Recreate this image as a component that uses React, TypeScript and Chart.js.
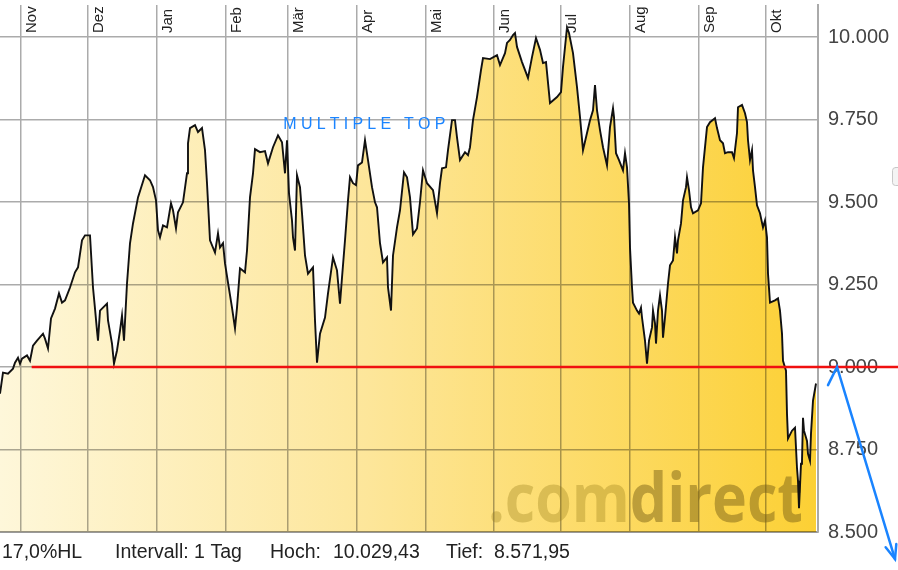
import React, { useEffect, useRef } from "react";
import { Chart, registerables } from "chart.js";

Chart.register(...registerables);

// trading-day index (x) and closing level (y) of the index
const days = [
  0, 0.9, 2.4, 3.9, 4.5, 5.4, 6, 6.6, 8.1, 9, 9.9, 11.1, 12.9, 13.5, 14.4, 15.3, 16.5, 17.7, 18.6, 19.5,
  21, 22.5, 23.4, 24.6, 25.5, 27, 27.9, 28.5, 29.1, 29.4, 30, 32.1, 32.4, 33.6, 34.2, 35.1, 36, 36.6, 37.2, 38.1,
  39, 39.9, 41.4, 43.5, 45, 45.9, 46.8, 47.4, 48, 48.9, 50.1, 51.3, 51.9, 52.8, 53.4, 54.9, 56.1, 56.4, 57, 58.5,
  59.4, 60.6, 61.5, 62.1, 63, 64.5, 65.4, 66, 66.9, 67.5, 68.4, 69.6, 70.5, 71.1, 72, 73.5, 74.1, 75, 75.9, 76.5,
  78, 79.5, 80.4, 81.9, 83.4, 84.6, 85.5, 86.1, 86.7, 87.6, 87.9, 88.5, 89.1, 90, 90.6, 91.5, 92.4, 93.9, 94.2, 94.5,
  95.1, 96, 97.5, 98.4, 99.9, 101.1, 102, 102.6, 103.5, 104.4, 105, 105.9, 106.8, 107.4, 108.6, 109.5, 110.4, 111.6, 112.5, 113.1,
  114, 114.9, 116.1, 116.4, 117.3, 117.9, 119.1, 120, 121.2, 122.1, 123, 123.9, 125.1, 126, 126.9, 128.1, 129.9, 131.1, 132, 132.6,
  133.8, 134.4, 135.6, 136.5, 137.1, 138, 139.5, 140.4, 141, 141.9, 143.1, 144.3, 144.9, 147, 149.1, 150, 151.5, 152.1, 153, 153.9,
  154.5, 155.1, 156.6, 158.4, 159.6, 160.8, 162, 162.9, 163.8, 165, 167.1, 168.3, 168.9, 170.1, 170.7, 171.9, 173.1, 174, 174.9, 176.1,
  177, 177.9, 178.5, 179.1, 180, 180.9, 182.1, 183, 183.9, 184.2, 184.8, 185.7, 186.9, 187.5, 188.1, 188.7, 189, 189.6, 189.9, 191.1,
  191.7, 192.3, 192.6, 193.5, 194.1, 194.7, 195.6, 195.9, 196.5, 196.8, 197.4, 198, 198.6, 198.9, 199.5, 200.4, 201, 201.9, 202.5, 203.1,
  203.4, 204.3, 204.9, 205.8, 206.1, 206.7, 207.3, 207.9, 209.4, 210.3, 210.9, 212.1, 213, 214.5, 215.1, 216, 216.9, 217.5, 218.4, 219.6,
  220.2, 221.1, 221.4, 222.6, 223.5, 224.1, 224.4, 225, 225.6, 225.9, 226.5, 227.1, 228, 228.9, 229.5, 230.1, 230.4, 231, 232.5, 233.4,
  234, 234.6, 234.9, 235.8, 236.1, 236.4, 237.6, 238.5, 239.1, 239.4, 239.7, 240.3, 240.6, 240.9, 241.2, 242.1, 242.4, 243, 243.3, 243.9,
  244.8,
];

const closes = [
  8919, 8983, 8980, 8995, 9013, 9028, 9010, 9025, 9035, 9019, 9065, 9080, 9101, 9086, 9056, 9147, 9177, 9223, 9195, 9202,
  9241, 9287, 9302, 9384, 9399, 9399, 9241, 9177, 9110, 9080, 9171, 9192, 9141, 9071, 9010, 9050, 9110, 9156, 9080, 9253,
  9375, 9435, 9514, 9581, 9566, 9545, 9505, 9414, 9393, 9429, 9423, 9496, 9475, 9420, 9469, 9499, 9587, 9678, 9724, 9733,
  9712, 9724, 9657, 9557, 9384, 9347, 9405, 9362, 9375, 9314, 9256, 9180, 9117, 9180, 9299, 9287, 9353, 9514, 9587, 9660,
  9651, 9654, 9617, 9666, 9702, 9681, 9587, 9687, 9526, 9444, 9393, 9353, 9581, 9545, 9466, 9338, 9283, 9302, 9223, 9141,
  9013, 9101, 9150, 9223, 9332, 9293, 9192, 9271, 9384, 9505, 9575, 9557, 9551, 9611, 9620, 9687, 9627, 9545, 9499, 9484,
  9375, 9317, 9332, 9241, 9171, 9338, 9423, 9475, 9590, 9575, 9514, 9402, 9420, 9500, 9596, 9557, 9536, 9466, 9557, 9602,
  9605, 9657, 9748, 9748, 9696, 9627, 9651, 9642, 9666, 9748, 9818, 9900, 9936, 9933, 9945, 9915, 9951, 9982, 9991, 10006,
  10012, 9970, 9924, 9876, 9939, 9997, 9961, 9921, 9924, 9800, 9818, 9833, 9909, 10029, 10012, 9951, 9848, 9757, 9657, 9709,
  9748, 9778, 9854, 9778, 9718, 9666, 9611, 9727, 9784, 9757, 9648, 9627, 9596, 9648, 9605, 9496, 9362, 9241, 9195, 9171,
  9162, 9180, 9150, 9080, 9010, 9080, 9120, 9171, 9132, 9071, 9171, 9217, 9171, 9089, 9150, 9253, 9308, 9323, 9393, 9344,
  9384, 9435, 9505, 9545, 9575, 9536, 9484, 9466, 9475, 9496, 9605, 9727, 9742, 9754, 9724, 9687, 9678, 9648, 9651, 9651,
  9633, 9709, 9787, 9794, 9769, 9742, 9687, 9627, 9657, 9596, 9545, 9490, 9466, 9423, 9444, 9393, 9283, 9195, 9202, 9208,
  9171, 9101, 9019, 8989, 8858, 8783, 8807, 8816, 8694, 8655, 8572, 8707, 8716, 8846, 8807, 8776, 8737, 8716, 8798, 8898,
  8950,
];

const monthLabels = ["Nov", "Dez", "Jan", "Feb", "Mär", "Apr", "Mai", "Jun", "Jul", "Aug", "Sep", "Okt"];
const monthDays = [6.3, 26.4, 47.1, 67.8, 86.4, 107.1, 127.8, 148.2, 168.3, 189, 209.7, 229.8];
const yTicks = [8500, 8750, 9000, 9250, 9500, 9750, 10000];

const supportLevel = 9000;
const supportStartDay = 9.5;
const patternLabel = "MULTIPLE TOP";
const patternDay = 85;
const patternLevel = 9721;
const arrowStartLevel = 8945;
const arrowTargetLevel = 8418;
const infoTexts = ["17,0%HL", "Intervall: 1 Tag", "Hoch:", "10.029,43", "Tief:", "8.571,95"];

const X_MAX = 245.4;
const Y_MIN = 8500;
const Y_MAX = 10097;

const fmt = (v: number) => {
  const s = Math.round(v).toString();
  return s.slice(0, -3) + "." + s.slice(-3);
};

const FONT = '"Liberation Sans", Arial, Helvetica, sans-serif';
const BLUE = "#1a84ff";

const overlayPlugin = {
  id: "overlay",
  beforeDraw(chart: any) {
    const { ctx, width, height } = chart;
    ctx.save();
    ctx.fillStyle = "#ffffff";
    ctx.fillRect(0, 0, width, height);
    ctx.restore();
  },
  beforeDatasetsDraw(chart: any) {
    chart.ctx.globalCompositeOperation = "multiply";
  },
  afterDatasetDraw(chart: any, args: any) {
    if (args.index !== 1) return;
    const ctx = chart.ctx;
    ctx.globalCompositeOperation = "source-over";
    const a = chart.chartArea;
    // watermark
    ctx.save();
    ctx.beginPath();
    ctx.rect(a.left, a.top, a.right - a.left, a.bottom - a.top);
    ctx.clip();
    ctx.font = 'bold 68px "Open Sans", "DejaVu Sans", sans-serif';
    ctx.textBaseline = "alphabetic";
    ctx.textAlign = "left";
    const t1 = ".com";
    const t2 = "direct";
    const w1 = ctx.measureText(t1).width;
    const w2 = ctx.measureText(t2).width;
    const sx = 315 / (w1 + w2);
    ctx.translate(a.right - 330, a.bottom - 10);
    ctx.scale(sx, 1);
    ctx.fillStyle = "rgba(150,120,20,0.33)";
    ctx.fillText(t1, 0, 0);
    ctx.fillStyle = "rgba(120,95,20,0.48)";
    ctx.fillText(t2, w1, 0);
    ctx.restore();
  },
  afterDraw(chart: any) {
    const ctx = chart.ctx;
    const a = chart.chartArea;
    const xs = chart.scales.x;
    const ys = chart.scales.y;
    ctx.save();
    ctx.globalCompositeOperation = "source-over";

    // month labels (rotated, inside plot at top)
    ctx.font = "15px " + FONT;
    ctx.fillStyle = "#222";
    ctx.textAlign = "left";
    ctx.textBaseline = "alphabetic";
    monthLabels.forEach((m, i) => {
      const x = xs.getPixelForValue(monthDays[i]);
      ctx.save();
      ctx.translate(x + 15, a.top + 28);
      ctx.rotate(-Math.PI / 2);
      ctx.fillText(m, 0, 0);
      ctx.restore();
    });

    // support line
    const ySup = ys.getPixelForValue(supportLevel);
    ctx.strokeStyle = "#f01010";
    ctx.lineWidth = 2.5;
    ctx.beginPath();
    ctx.moveTo(xs.getPixelForValue(supportStartDay), ySup);
    ctx.lineTo(chart.width, ySup);
    ctx.stroke();

    // blue projection arrow
    const p0x = a.right + 10, p0y = ys.getPixelForValue(arrowStartLevel);
    const p1x = a.right + 19, p1y = ySup;
    const p2x = a.right + 77, p2y = ys.getPixelForValue(arrowTargetLevel);
    ctx.strokeStyle = BLUE;
    ctx.lineWidth = 2.5;
    ctx.lineCap = "round";
    ctx.beginPath();
    ctx.moveTo(p0x, p0y);
    ctx.lineTo(p1x, p1y);
    ctx.lineTo(p2x, p2y);
    ctx.stroke();
    const ang = Math.atan2(p2y - p1y, p2x - p1x) + Math.PI;
    const L = 15;
    ctx.beginPath();
    ctx.moveTo(p2x + L * Math.cos(ang - 0.38), p2y + L * Math.sin(ang - 0.38));
    ctx.lineTo(p2x, p2y);
    ctx.lineTo(p2x + L * Math.cos(ang + 0.38), p2y + L * Math.sin(ang + 0.38));
    ctx.stroke();

    // pattern label with letter spacing
    ctx.font = "16px " + FONT;
    ctx.fillStyle = BLUE;
    const chars = patternLabel.split("");
    const natural = chars.reduce((s, c) => s + ctx.measureText(c).width, 0);
    const gap = (162 - natural) / (chars.length - 1);
    let cx = xs.getPixelForValue(patternDay);
    const cy = ys.getPixelForValue(patternLevel);
    chars.forEach((c) => {
      ctx.fillText(c, cx, cy);
      cx += ctx.measureText(c).width + gap;
    });

    // info line under the chart
    ctx.font = "19.5px " + FONT;
    ctx.fillStyle = "#222";
    const infoX = [2, 115, 270, 333, 446, 494];
    infoTexts.forEach((t, i) => ctx.fillText(t, infoX[i], chart.height - 12));

    // small control at right edge
    ctx.strokeStyle = "#c8c8c8";
    ctx.fillStyle = "#f4f4f4";
    ctx.lineWidth = 1;
    ctx.beginPath();
    ctx.roundRect(chart.width - 5.5, 167.5, 12, 18, 3);
    ctx.fill();
    ctx.stroke();
    ctx.restore();
  },
};

export default function App() {
  const ref = useRef<HTMLCanvasElement>(null);
  useEffect(() => {
    document.body.style.margin = "0";
    const points = days.map((d, i) => ({ x: d, y: closes[i] }));
    const chart = new Chart(ref.current as HTMLCanvasElement, {
      type: "line",
      data: {
        datasets: [
          {
            label: "Kurs",
            data: points,
            borderColor: "#111111",
            borderWidth: 1.9,
            pointRadius: 0,
            fill: false,
            tension: 0,
            order: 0,
          },
          {
            label: "Fläche",
            data: points,
            borderColor: "rgba(0,0,0,0)",
            borderWidth: 0,
            pointRadius: 0,
            tension: 0,
            fill: "start",
            order: 1,
            backgroundColor: (c: any) => {
              const area = c.chart.chartArea;
              if (!area) return "#fde38a";
              const g = c.chart.ctx.createLinearGradient(area.left, 0, area.right, 0);
              g.addColorStop(0, "#fef7da");
              g.addColorStop(0.45, "#fde69a");
              g.addColorStop(1, "#fcd034");
              return g;
            },
          },
        ],
      },
      options: {
        responsive: false,
        animation: false,
        events: [],
        layout: { padding: { top: 5, right: 0, bottom: 38, left: 0 } },
        plugins: { legend: { display: false }, tooltip: { enabled: false } },
        scales: {
          x: {
            type: "linear",
            min: 0,
            max: X_MAX,
            afterBuildTicks: (s: any) => {
              s.ticks = monthDays.map((v) => ({ value: v }));
            },
            afterFit: (s: any) => {
              s.height = 0;
              s.paddingLeft = 0;
              s.paddingRight = 0;
            },
            ticks: { display: false },
            grid: { color: "#ababab", lineWidth: 1.5, drawTicks: false },
            border: { display: true, color: "#999999", width: 2 },
          },
          y: {
            type: "linear",
            position: "right",
            min: Y_MIN,
            max: Y_MAX,
            afterBuildTicks: (s: any) => {
              s.ticks = yTicks.map((v) => ({ value: v }));
            },
            afterFit: (s: any) => {
              s.width = 80;
              s.paddingTop = 0;
              s.paddingBottom = 0;
            },
            ticks: {
              padding: 10,
              color: "#444444",
              font: { family: FONT, size: 20 },
              callback: (v: any) => fmt(Number(v)),
            },
            grid: { color: "#ababab", lineWidth: 1.5, drawTicks: false },
            border: { display: true, color: "#aaaaaa", width: 2 },
          },
        },
      },
      plugins: [overlayPlugin],
    });
    return () => chart.destroy();
  }, []);
  return (
    <div style={{ width: 898, height: 570 }}>
      <canvas ref={ref} width={898} height={570} style={{ display: "block" }} />
    </div>
  );
}
